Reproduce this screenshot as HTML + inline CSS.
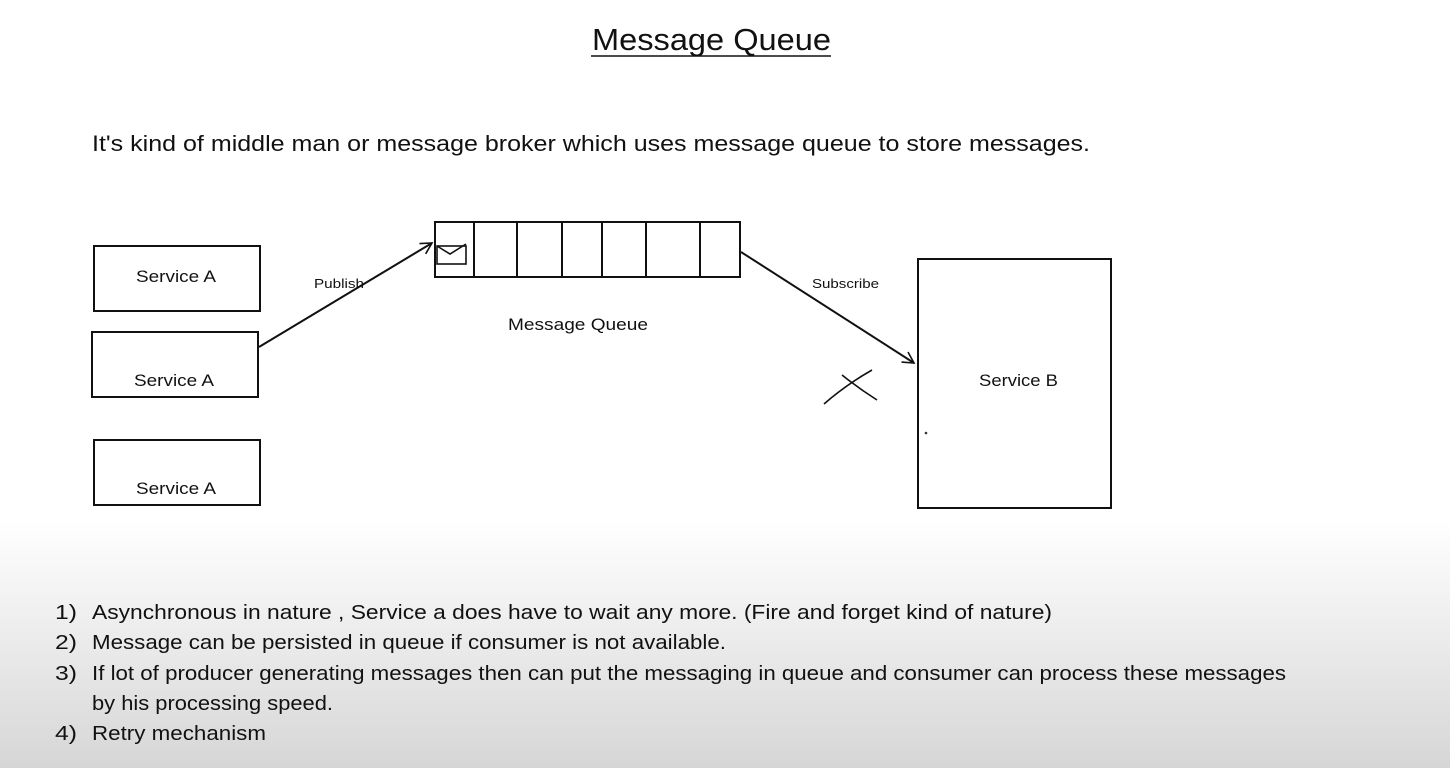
<!DOCTYPE html>
<html><head><meta charset="utf-8"><style>
html,body{margin:0;padding:0;width:1450px;height:768px;overflow:hidden;background:#fff}
svg{display:block}
text{font-family:"Liberation Sans",sans-serif;fill:#111}
</style></head><body>
<svg width="1450" height="768" viewBox="0 0 1450 768">
<defs>
<linearGradient id="g" x1="0" y1="0" x2="0" y2="1">
<stop offset="0" stop-color="#ffffff"/>
<stop offset="1" stop-color="#d6d6d6"/>
</linearGradient>
<marker id="ar" markerWidth="14" markerHeight="14" refX="12" refY="7" orient="auto" markerUnits="userSpaceOnUse">
<path d="M1,1 L12,7 L1,13" fill="none" stroke="#111" stroke-width="1.6"/>
</marker>
</defs>
<rect x="0" y="520" width="1450" height="248" fill="url(#g)"/>
<text x="592" y="50" font-size="31" textLength="239" lengthAdjust="spacingAndGlyphs">Message Queue</text>
<line x1="591" y1="56" x2="831" y2="56" stroke="#111" stroke-width="1.6"/>
<text x="92" y="151" font-size="22" textLength="998" lengthAdjust="spacingAndGlyphs">It's kind of middle man or message broker which uses message queue to store messages.</text>
<g fill="none" stroke="#111" stroke-width="2">
<rect x="94" y="246" width="166" height="65"/>
<rect x="92" y="332" width="166" height="65"/>
<rect x="94" y="440" width="166" height="65"/>
<rect x="918" y="259" width="193" height="249"/>
<rect x="435" y="222" width="305" height="55"/>
<line x1="474" y1="222" x2="474" y2="277"/>
<line x1="517" y1="222" x2="517" y2="277"/>
<line x1="562" y1="222" x2="562" y2="277"/>
<line x1="602" y1="222" x2="602" y2="277"/>
<line x1="646" y1="222" x2="646" y2="278"/>
<line x1="700" y1="222" x2="700" y2="278"/>
<line x1="259" y1="347" x2="432" y2="243" marker-end="url(#ar)"/>
<line x1="741" y1="252" x2="914" y2="363" marker-end="url(#ar)"/>
<path d="M437,246 L450,254 L466,244" stroke-width="1.6"/>
<rect x="437" y="246" width="29" height="18" stroke-width="1.6"/>
<path d="M824,404 C840,390 858,378 872,370 M842,375 C852,383 866,393 877,400" stroke-width="1.6"/>
</g>
<text x="136" y="282" font-size="17" textLength="80" lengthAdjust="spacingAndGlyphs">Service A</text>
<text x="134" y="386" font-size="17" textLength="80" lengthAdjust="spacingAndGlyphs">Service A</text>
<text x="136" y="494" font-size="17" textLength="80" lengthAdjust="spacingAndGlyphs">Service A</text>
<text x="979" y="386" font-size="17" textLength="79" lengthAdjust="spacingAndGlyphs">Service B</text>
<text x="508" y="330" font-size="17" textLength="140" lengthAdjust="spacingAndGlyphs">Message Queue</text>
<text x="314" y="288" font-size="13" textLength="50" lengthAdjust="spacingAndGlyphs">Publish</text>
<text x="812" y="288" font-size="13" textLength="67" lengthAdjust="spacingAndGlyphs">Subscribe</text>
<circle cx="926" cy="433" r="1.3" fill="#333"/>
<g font-size="20">
<text x="55" y="619" textLength="22" lengthAdjust="spacingAndGlyphs">1)</text>
<text x="92" y="619" textLength="960" lengthAdjust="spacingAndGlyphs">Asynchronous  in nature , Service  a does have to wait any more. (Fire and forget kind of nature)</text>
<text x="55" y="649" textLength="22" lengthAdjust="spacingAndGlyphs">2)</text>
<text x="92" y="649" textLength="634" lengthAdjust="spacingAndGlyphs">Message can be persisted in queue if consumer is not available.</text>
<text x="55" y="680" textLength="22" lengthAdjust="spacingAndGlyphs">3)</text>
<text x="92" y="680" textLength="1194" lengthAdjust="spacingAndGlyphs">If lot of producer generating messages then can put the messaging in queue and consumer can process these messages</text>
<text x="92" y="710" textLength="241" lengthAdjust="spacingAndGlyphs">by his processing speed.</text>
<text x="55" y="740" textLength="22" lengthAdjust="spacingAndGlyphs">4)</text>
<text x="92" y="740" textLength="174" lengthAdjust="spacingAndGlyphs">Retry mechanism</text>
</g>
</svg>
</body></html>
